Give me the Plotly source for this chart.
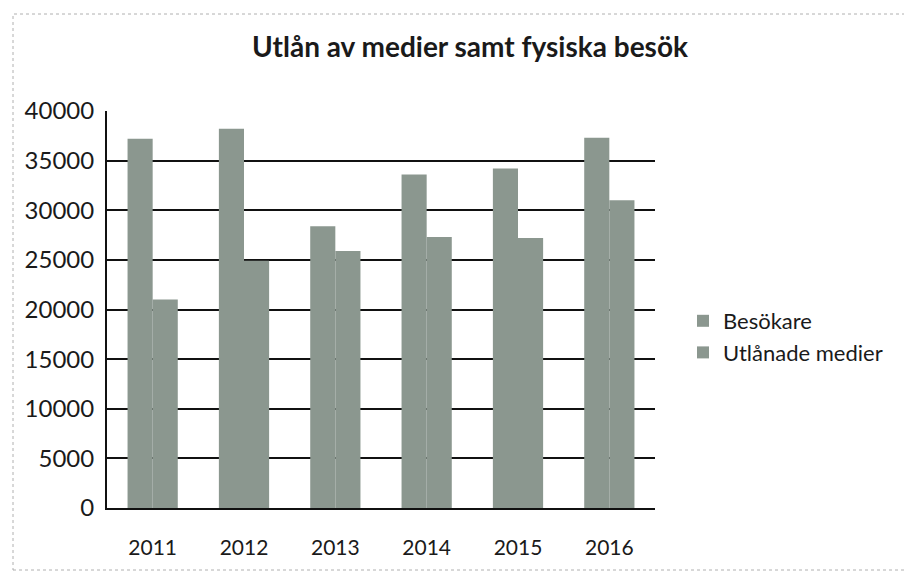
import plotly.graph_objects as go

years = ["2011", "2012", "2013", "2014", "2015", "2016"]
besokare = [37200, 38200, 28400, 33600, 34200, 37300]
utlanade = [21000, 24900, 25900, 27300, 27200, 31000]
y_ticks = [0, 5000, 10000, 15000, 20000, 25000, 30000, 35000, 40000]

bar_color = "#8b978f"
font_family = "Lato, 'Open Sans', sans-serif"

fig = go.Figure()
fig.add_trace(go.Bar(name="Besökare", x=years, y=besokare, marker=dict(color=bar_color, line=dict(width=0))))
fig.add_trace(go.Bar(name="Utlånade medier", x=years, y=utlanade, marker=dict(color=bar_color, line=dict(width=0))))

# page body has an 8px margin, so figure coords = screen coords - 8
W, H = 904, 565
L, T = 99, 103
pw, ph = 548, 397
R, B = W - L - pw, H - T - ph

def px(x):
    return (x - 8 - L) / pw

def py(y):
    return (H - B - (y - 8)) / ph

fig.update_layout(
    width=W, height=H,
    margin=dict(l=L, r=R, t=T, b=B, autoexpand=False),
    paper_bgcolor="white", plot_bgcolor="white",
    barmode="group", bargap=0.45, bargroupgap=0,
    font=dict(family=font_family, color="#1a1a1a", size=22),
    title=dict(text="<b>Utlån av medier samt fysiska besök</b>", x=(470 - 8) / W, xanchor="center",
               xref="container", y=1 - (47 - 8) / H, yanchor="middle",
               font=dict(size=28, family=font_family, color="#1a1a1a")),
    legend=dict(x=px(683), y=py(337), xanchor="left", yanchor="middle",
                font=dict(size=22), itemwidth=30, bgcolor="rgba(0,0,0,0)"),
    xaxis=dict(showline=True, linecolor="#111", linewidth=2, ticks="", tickfont=dict(size=21),
               showgrid=False, ticklabelstandoff=20),
    yaxis=dict(range=[0, 40000], tickvals=y_ticks, ticktext=[str(v) for v in y_ticks],
               showgrid=True, gridcolor="#111", gridwidth=2, showline=True, linecolor="#111",
               linewidth=2, ticks="", tickfont=dict(size=24), zeroline=False, ticklabelstandoff=6),
    shapes=[dict(type="rect", xref="paper", yref="paper", x0=px(13), x1=px(910), y0=py(570), y1=py(14),
                 line=dict(color="#b0b0b0", width=1, dash="dot"), layer="below")],
)

fig.write_html("out.html")
